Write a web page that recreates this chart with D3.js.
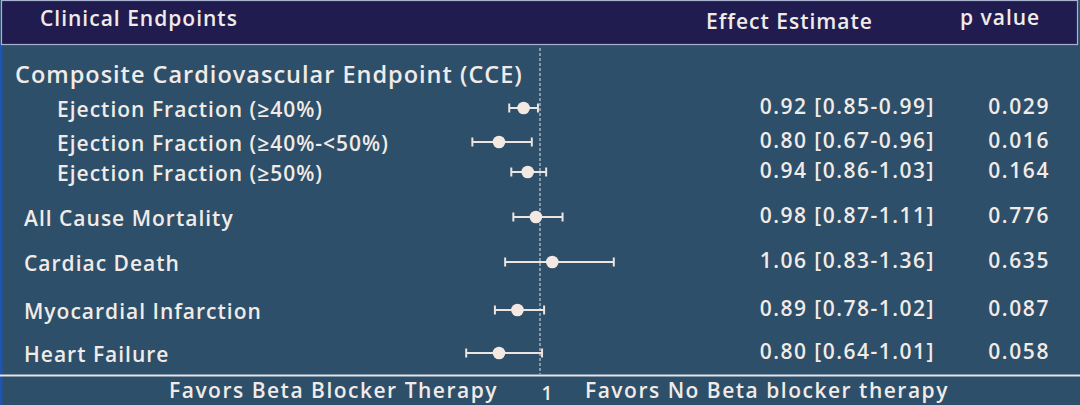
<!DOCTYPE html>
<html>
<head>
<meta charset="utf-8">
<script src="https://cdn.jsdelivr.net/npm/d3@7"></script>
<style>
  html, body { margin: 0; padding: 0; background: #2d4f69; }
  svg { display: block; font-family: "Open Sans", sans-serif; font-weight: 600; }
</style>
</head>
<body>
<svg id="chart" width="1080" height="405"></svg>
<script>
// endpoints shown in the table, top to bottom
var endpoints = ["Ejection Fraction (≥40%)", "Ejection Fraction (≥40%-<50%)", "Ejection Fraction (≥50%)",
                 "All Cause Mortality", "Cardiac Death", "Myocardial Infarction", "Heart Failure"];
// which endpoints sit under the composite heading
var subgroupOf = ["CCE", "CCE", "CCE", null, null, null, null];
var groupTitle = "Composite Cardiovascular Endpoint (CCE)";

// hazard ratios with 95% CI
var estimates = [0.92, 0.80, 0.94, 0.98, 1.06, 0.89, 0.80];
var lower     = [0.85, 0.67, 0.86, 0.87, 0.83, 0.78, 0.64];
var upper     = [0.99, 0.96, 1.03, 1.11, 1.36, 1.02, 1.01];
var pValues   = ["0.029", "0.016", "0.164", "0.776", "0.635", "0.087", "0.058"];

var headers = ["Clinical Endpoints", "Effect Estimate", "p value"];
var refValue = 1;
var favorsLeft = "Favors Beta Blocker Therapy";
var favorsRight = "Favors No Beta blocker therapy";

var W = 1080, H = 405;
var textColor = "#f1ebe8";
var svg = d3.select("#chart");

// backgrounds
svg.append("rect").attr("width", W).attr("height", H).attr("fill", "#2d4f69");
svg.append("rect").attr("x", 0).attr("y", 44).attr("width", 2.5).attr("height", H - 44).attr("fill", "#1d55b0");
svg.append("rect")
    .attr("x", 1.5).attr("y", 0.5).attr("width", W - 4).attr("height", 44)
    .attr("fill", "#201c50").attr("stroke", "#a9b2cf").attr("stroke-width", 1.2);

// header texts
svg.append("text").attr("x", 40).attr("y", 26).attr("font-size", 21).attr("letter-spacing", 1)
    .attr("fill", textColor).text(headers[0]);
svg.append("text").attr("x", 706).attr("y", 29).attr("font-size", 21).attr("letter-spacing", 1)
    .attr("fill", textColor).text(headers[1]);
svg.append("text").attr("x", 960).attr("y", 25).attr("font-size", 21).attr("letter-spacing", 1)
    .attr("fill", textColor).text(headers[2]);

// scales
var x = d3.scaleLinear().domain([0.6, 1.4]).range([458, 622]);
var y = d3.scaleOrdinal().domain(endpoints).range([108, 142, 172, 217, 262, 310, 353]);

var rows = endpoints.map(function(d, i) {
    return { name: d, group: subgroupOf[i], est: estimates[i], lo: lower[i], hi: upper[i], p: pValues[i] };
});

// reference line at 1
svg.append("line")
    .attr("x1", x(refValue)).attr("x2", x(refValue))
    .attr("y1", 48).attr("y2", 374)
    .attr("stroke", "#e4e6ea").attr("stroke-width", 1)
    .attr("stroke-dasharray", "3,2");

// bottom rule
svg.append("line").attr("x1", 0).attr("x2", W).attr("y1", 375.5).attr("y2", 375.5)
    .attr("stroke", "#e3e6ea").attr("stroke-width", 2.2);

// group heading
svg.append("text").attr("x", 15).attr("y", 83).attr("font-size", 23.5).attr("letter-spacing", 1)
    .attr("fill", textColor).text(groupTitle);

// endpoint labels
svg.selectAll(".lbl").data(rows).enter().append("text")
    .attr("class", "lbl")
    .attr("x", function(d) { return d.group ? 57 : 24; })
    .attr("y", function(d) { return y(d.name) + 9; })
    .attr("font-size", 21)
    .attr("letter-spacing", 1)
    .attr("fill", textColor)
    .text(function(d) { return d.name; });

// CI whiskers
var ci = svg.selectAll(".ci").data(rows).enter().append("g").attr("class", "ci")
    .attr("stroke", "#ebe4e1").attr("stroke-width", 2);
ci.append("line")
    .attr("x1", function(d) { return x(d.lo); }).attr("x2", function(d) { return x(d.hi); })
    .attr("y1", function(d) { return y(d.name); }).attr("y2", function(d) { return y(d.name); });
ci.append("line")
    .attr("x1", function(d) { return x(d.lo); }).attr("x2", function(d) { return x(d.lo); })
    .attr("y1", function(d) { return y(d.name) - 4.5; }).attr("y2", function(d) { return y(d.name) + 4.5; });
ci.append("line")
    .attr("x1", function(d) { return x(d.hi); }).attr("x2", function(d) { return x(d.hi); })
    .attr("y1", function(d) { return y(d.name) - 4.5; }).attr("y2", function(d) { return y(d.name) + 4.5; });

// point estimates
svg.selectAll(".dot").data(rows).enter().append("circle")
    .attr("class", "dot")
    .attr("cx", function(d) { return x(d.est); })
    .attr("cy", function(d) { return y(d.name); })
    .attr("r", 6.3)
    .attr("fill", "#f4e8e2");

// effect estimate column
var f2 = d3.format(".2f");
svg.selectAll(".eff").data(rows).enter().append("text")
    .attr("class", "eff")
    .attr("x", 935)
    .attr("y", function(d) { return y(d.name) + 6; })
    .attr("text-anchor", "end")
    .attr("font-size", 21)
    .attr("letter-spacing", 1.5)
    .attr("fill", textColor)
    .text(function(d) { return f2(d.est) + " [" + f2(d.lo) + "-" + f2(d.hi) + "]"; });

// p value column
svg.selectAll(".pv").data(rows).enter().append("text")
    .attr("class", "pv")
    .attr("x", 1050)
    .attr("y", function(d) { return y(d.name) + 6; })
    .attr("text-anchor", "end")
    .attr("font-size", 21)
    .attr("letter-spacing", 1.6)
    .attr("fill", textColor)
    .text(function(d) { return d.p; });

// favors labels and reference tick
svg.append("text").attr("x", 498).attr("y", 398).attr("text-anchor", "end")
    .attr("font-size", 21).attr("letter-spacing", 1.5).attr("fill", textColor).text(favorsLeft);
svg.append("text").attr("x", 585).attr("y", 398)
    .attr("font-size", 21).attr("letter-spacing", 1.5).attr("fill", textColor).text(favorsRight);
svg.append("text").attr("x", x(refValue) + 7).attr("y", 400).attr("text-anchor", "middle")
    .attr("font-size", 19).attr("fill", textColor).text(refValue);
</script>
</body>
</html>
